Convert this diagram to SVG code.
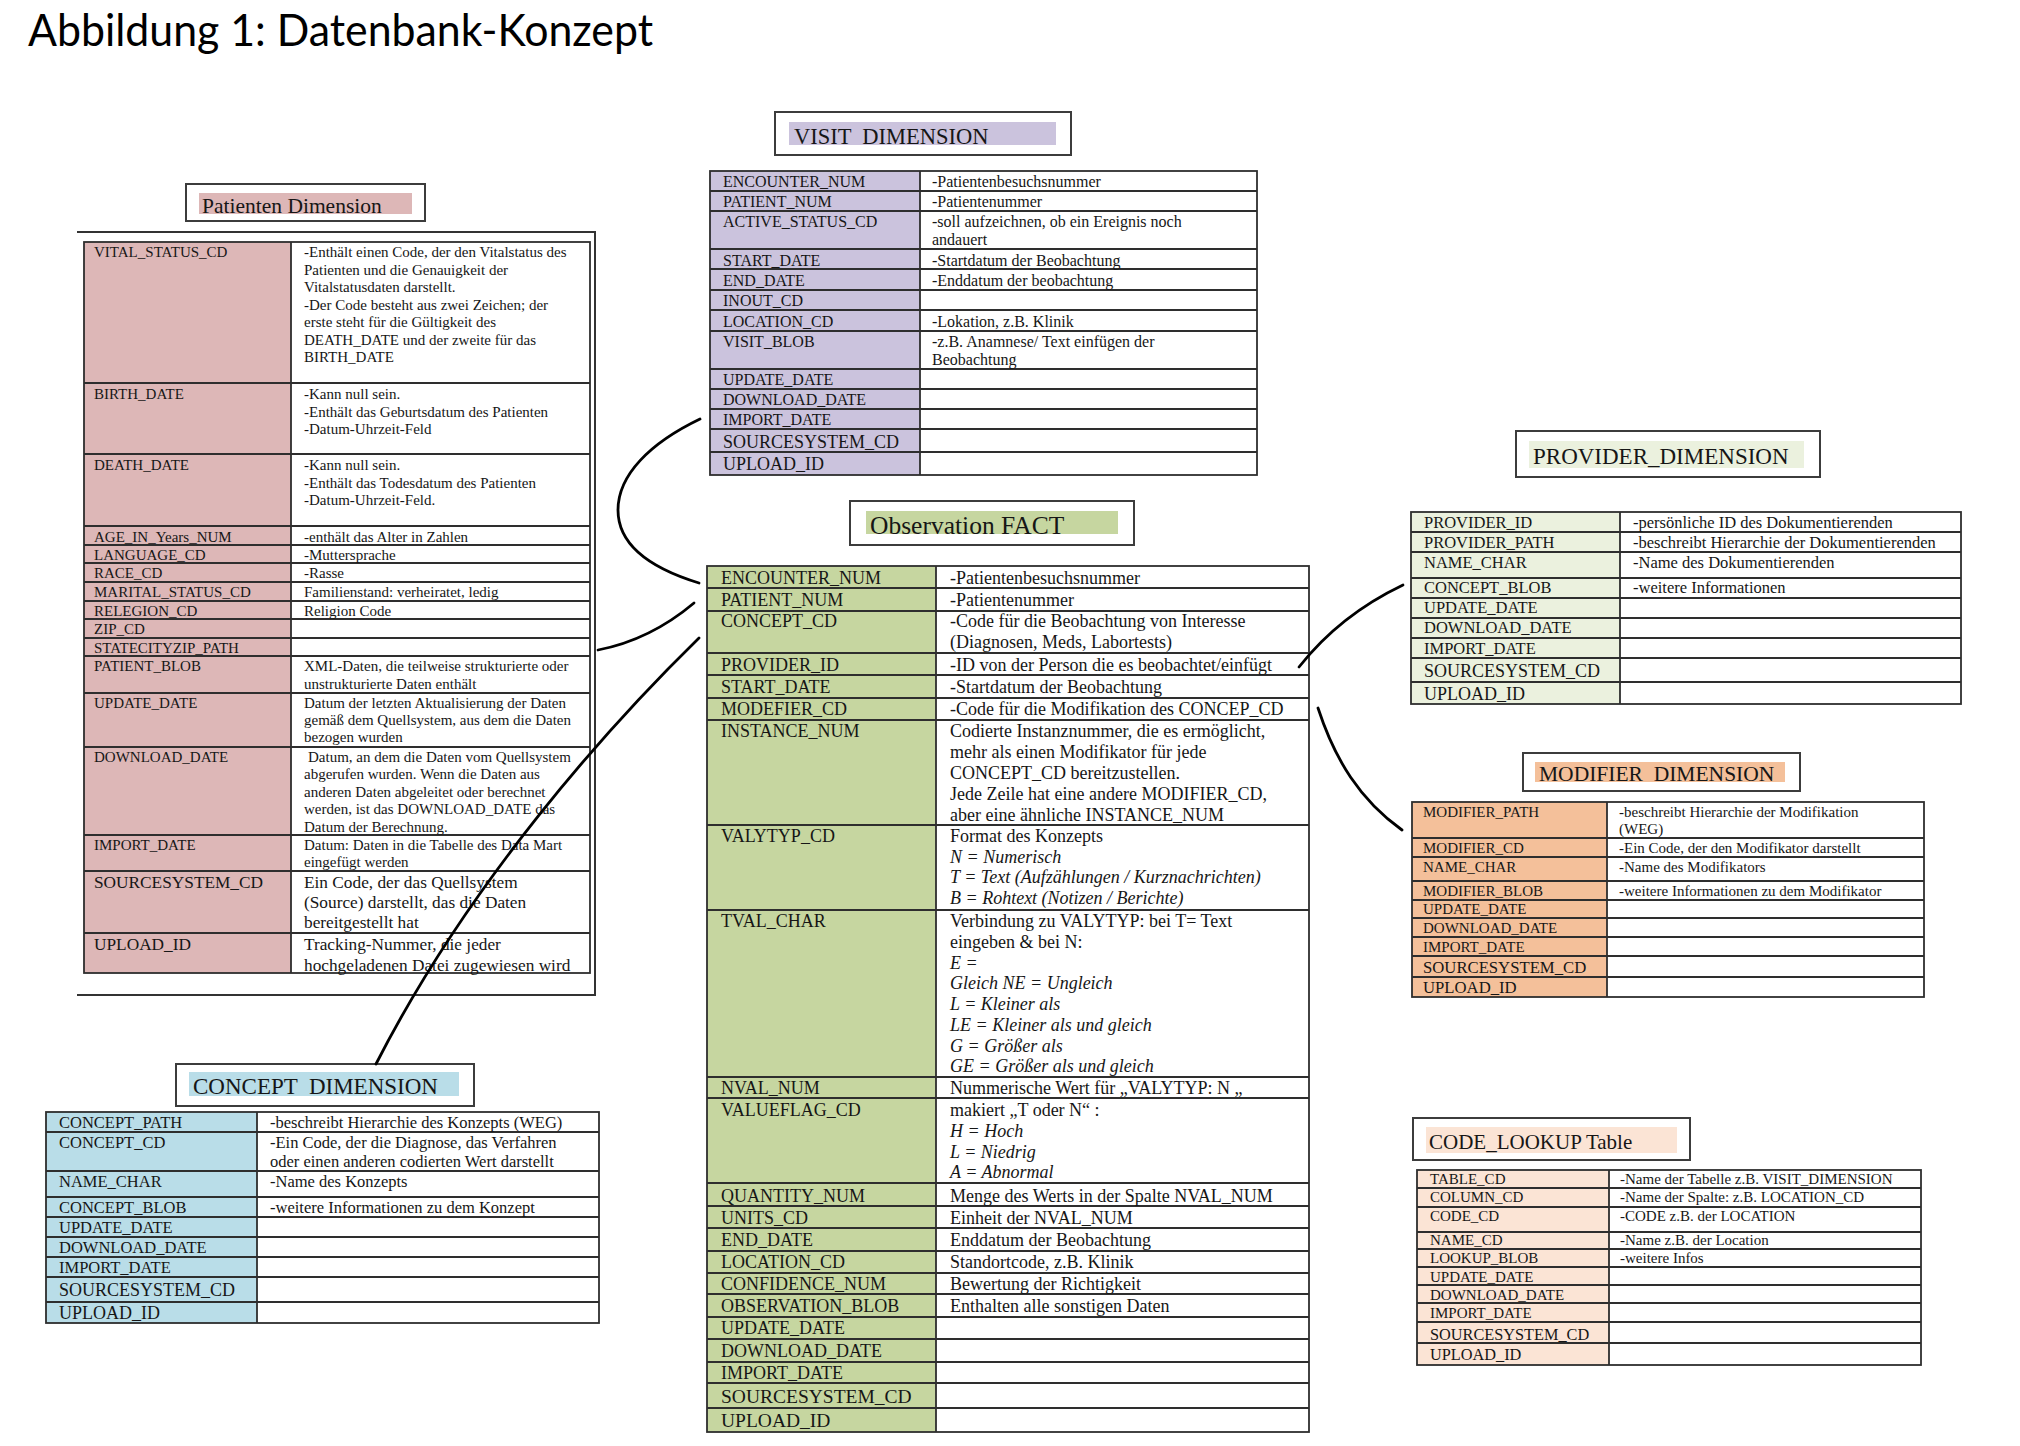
<svg xmlns="http://www.w3.org/2000/svg" width="2020" height="1446" viewBox="0 0 2020 1446">
<style>
text { font-family: "Liberation Serif", "Times New Roman", serif; fill: #161616; }
.title { font-family: Lato, "Open Sans", "Liberation Sans", sans-serif; font-size: 44px; fill: #000; }
.hb { fill: #fff; stroke: #3c3c3c; stroke-width: 2; }
.grid { fill: none; stroke: #2e2e2e; stroke-width: 1.8; }
.frame { fill: none; stroke: #333; stroke-width: 2; }
.conn { fill: none; stroke: #000; stroke-width: 2.8; stroke-linecap: round; }
.it { font-style: italic; }
.pa { fill: #ddb7b7; }
.vi { fill: #cbc3dd; }
.fa { fill: #c6d6a0; }
.pr { fill: #ebf1de; }
.mo { fill: #f4c09a; }
.co { fill: #b9dde8; }
.cl { fill: #fbe4d5; }
</style>
<rect width="2020" height="1446" fill="#fff"/>
<text class="title" x="28" y="46" textLength="625" lengthAdjust="spacingAndGlyphs">Abbildung 1: Datenbank-Konzept</text>

<!-- Patienten Dimension -->
<g id="patienten-dimension" font-size="15">
<rect class="hb" x="186" y="184" width="239" height="37"/>
<rect class="pa" x="199" y="193" width="213" height="21"/>
<text x="202" y="212.5" font-size="21.5">Patienten Dimension</text>
<path class="frame" d="M77,232 H595 V995 H77"/>
<rect class="pa" x="84" y="242" width="207" height="731"/>
<path class="grid" d="M84,383H590M84,454H590M84,526H590M84,545H590M84,563H590M84,582H590M84,601H590M84,619H590M84,638H590M84,656H590M84,693H590M84,747H590M84,835H590M84,871H590M84,933H590M291,242V973"/>
<rect class="grid" x="84" y="242" width="506" height="731"/>
<text x="94" y="257.3">VITAL_STATUS_CD</text>
<text x="304" y="257.3"><tspan x="304">-Enthält einen Code, der den Vitalstatus des</tspan><tspan x="304" dy="17.5">Patienten und die Genauigkeit der</tspan><tspan x="304" dy="17.5">Vitalstatusdaten darstellt.</tspan><tspan x="304" dy="17.5">-Der Code besteht aus zwei Zeichen; der</tspan><tspan x="304" dy="17.5">erste steht für die Gültigkeit des</tspan><tspan x="304" dy="17.5">DEATH_DATE und der zweite für das</tspan><tspan x="304" dy="17.5">BIRTH_DATE</tspan></text>
<text x="94" y="399.3">BIRTH_DATE</text>
<text x="304" y="399.3"><tspan x="304">-Kann null sein.</tspan><tspan x="304" dy="17.5">-Enthält das Geburtsdatum des Patienten</tspan><tspan x="304" dy="17.5">-Datum-Uhrzeit-Feld</tspan></text>
<text x="94" y="470">DEATH_DATE</text>
<text x="304" y="470"><tspan x="304">-Kann null sein.</tspan><tspan x="304" dy="17.5">-Enthält das Todesdatum des Patienten</tspan><tspan x="304" dy="17.5">-Datum-Uhrzeit-Feld.</tspan></text>
<text x="94" y="541.7">AGE_IN_Years_NUM</text>
<text x="304" y="541.7">-enthält das Alter in Zahlen</text>
<text x="94" y="560">LANGUAGE_CD</text>
<text x="304" y="560">-Muttersprache</text>
<text x="94" y="578.3">RACE_CD</text>
<text x="304" y="578.3">-Rasse</text>
<text x="94" y="597.3">MARITAL_STATUS_CD</text>
<text x="304" y="597.3">Familienstand: verheiratet, ledig</text>
<text x="94" y="616">RELEGION_CD</text>
<text x="304" y="616">Religion Code</text>
<text x="94" y="634.3">ZIP_CD</text>
<text x="94" y="652.7">STATECITYZIP_PATH</text>
<text x="94" y="671">PATIENT_BLOB</text>
<text x="304" y="671"><tspan x="304">XML-Daten, die teilweise strukturierte oder</tspan><tspan x="304" dy="17.5">unstrukturierte Daten enthält</tspan></text>
<text x="94" y="707.7">UPDATE_DATE</text>
<text x="304" y="707.7"><tspan x="304">Datum der letzten Aktualisierung der Daten</tspan><tspan x="304" dy="17.3">gemäß dem Quellsystem, aus dem die Daten</tspan><tspan x="304" dy="17.3">bezogen wurden</tspan></text>
<text x="94" y="761.7">DOWNLOAD_DATE</text>
<text x="308" y="761.7"><tspan x="308">Datum, an dem die Daten vom Quellsystem</tspan><tspan x="304" dy="17.5">abgerufen wurden. Wenn die Daten aus</tspan><tspan x="304" dy="17.5">anderen Daten abgeleitet oder berechnet</tspan><tspan x="304" dy="17.5">werden, ist das DOWNLOAD_DATE das</tspan><tspan x="304" dy="17.5">Datum der Berechnung.</tspan></text>
<text x="94" y="850">IMPORT_DATE</text>
<text x="304" y="850"><tspan x="304">Datum: Daten in die Tabelle des Data Mart</tspan><tspan x="304" dy="17.3">eingefügt werden</tspan></text>
<text x="94" y="888.3" font-size="17.3">SOURCESYSTEM_CD</text>
<text x="304" y="888.3" font-size="17.3"><tspan x="304">Ein Code, der das Quellsystem</tspan><tspan x="304" dy="20">(Source) darstellt, das die Daten</tspan><tspan x="304" dy="20">bereitgestellt hat</tspan></text>
<text x="94" y="950" font-size="17.3">UPLOAD_ID</text>
<text x="304" y="950" font-size="17.3"><tspan x="304">Tracking-Nummer, die jeder</tspan><tspan x="304" dy="20.7">hochgeladenen Datei zugewiesen wird</tspan></text>
</g>

<!-- VISIT DIMENSION -->
<g id="visit-dimension" font-size="16">
<rect class="hb" x="775" y="112" width="296" height="43"/>
<rect class="vi" x="789" y="122" width="267" height="23"/>
<text x="794" y="144" font-size="22.5" xml:space="preserve">VISIT  DIMENSION</text>
<rect class="vi" x="710" y="171" width="210" height="304"/>
<path class="grid" d="M710,191H1257M710,211H1257M710,249H1257M710,269H1257M710,290H1257M710,310H1257M710,331H1257M710,369H1257M710,389H1257M710,409H1257M710,429H1257M710,452H1257M920,171V475"/>
<rect class="grid" x="710" y="171" width="547" height="304"/>
<text x="723" y="186.7">ENCOUNTER_NUM</text>
<text x="932" y="186.7">-Patientenbesuchsnummer</text>
<text x="723" y="206.7">PATIENT_NUM</text>
<text x="932" y="206.7">-Patientenummer</text>
<text x="723" y="226.7">ACTIVE_STATUS_CD</text>
<text x="932" y="226.7"><tspan x="932">-soll aufzeichnen, ob ein Ereignis noch</tspan><tspan x="932" dy="18.3">andauert</tspan></text>
<text x="723" y="265.7">START_DATE</text>
<text x="932" y="265.7">-Startdatum der Beobachtung</text>
<text x="723" y="285.7">END_DATE</text>
<text x="932" y="285.7">-Enddatum der beobachtung</text>
<text x="723" y="306.3">INOUT_CD</text>
<text x="723" y="326.7">LOCATION_CD</text>
<text x="932" y="326.7">-Lokation, z.B. Klinik</text>
<text x="723" y="346.7">VISIT_BLOB</text>
<text x="932" y="346.7"><tspan x="932">-z.B. Anamnese/ Text einfügen der</tspan><tspan x="932" dy="18.3">Beobachtung</tspan></text>
<text x="723" y="385">UPDATE_DATE</text>
<text x="723" y="405">DOWNLOAD_DATE</text>
<text x="723" y="425">IMPORT_DATE</text>
<text x="723" y="447.7" font-size="18">SOURCESYSTEM_CD</text>
<text x="723" y="470" font-size="18">UPLOAD_ID</text>
</g>

<!-- Observation FACT -->
<g id="observation-fact" font-size="18">
<rect class="hb" x="850" y="501" width="284" height="44"/>
<rect class="fa" x="866" y="511" width="252" height="23"/>
<text x="870" y="534" font-size="25.5">Observation FACT</text>
<rect class="fa" x="707" y="566" width="229" height="866"/>
<path class="grid" d="M707,588H1309M707,611H1309M707,653H1309M707,675H1309M707,698H1309M707,720H1309M707,825H1309M707,910H1309M707,1077H1309M707,1098H1309M707,1183H1309M707,1206H1309M707,1228H1309M707,1251H1309M707,1273H1309M707,1294H1309M707,1317H1309M707,1339H1309M707,1362H1309M707,1383H1309M707,1408H1309M936,566V1432"/>
<rect class="grid" x="707" y="566" width="602" height="866"/>
<text x="721" y="584">ENCOUNTER_NUM</text>
<text x="950" y="584">-Patientenbesuchsnummer</text>
<text x="721" y="606">PATIENT_NUM</text>
<text x="950" y="606">-Patientenummer</text>
<text x="721" y="627.3">CONCEPT_CD</text>
<text x="950" y="627.3"><tspan x="950">-Code für die Beobachtung von Interesse</tspan><tspan x="950" dy="20.7">(Diagnosen, Meds, Labortests)</tspan></text>
<text x="721" y="670.7">PROVIDER_ID</text>
<text x="950" y="670.7">-ID von der Person die es beobachtet/einfügt</text>
<text x="721" y="692.7">START_DATE</text>
<text x="950" y="692.7">-Startdatum der Beobachtung</text>
<text x="721" y="715.3">MODEFIER_CD</text>
<text x="950" y="715.3">-Code für die Modifikation des CONCEP_CD</text>
<text x="721" y="737.3">INSTANCE_NUM</text>
<text x="950" y="737.3"><tspan x="950">Codierte Instanznummer, die es ermöglicht,</tspan><tspan x="950" dy="20.8">mehr als einen Modifikator für jede</tspan><tspan x="950" dy="20.8">CONCEPT_CD bereitzustellen.</tspan><tspan x="950" dy="20.8">Jede Zeile hat eine andere MODIFIER_CD,</tspan><tspan x="950" dy="20.8">aber eine ähnliche INSTANCE_NUM</tspan></text>
<text x="721" y="841.7">VALYTYP_CD</text>
<text x="950" y="841.7"><tspan x="950">Format des Konzepts</tspan><tspan x="950" dy="20.8" class="it">N = Numerisch</tspan><tspan x="950" dy="20.8" class="it">T = Text (Aufzählungen / Kurznachrichten)</tspan><tspan x="950" dy="20.8" class="it">B = Rohtext (Notizen / Berichte)</tspan></text>
<text x="721" y="927.3">TVAL_CHAR</text>
<text x="950" y="927.3"><tspan x="950">Verbindung zu VALYTYP: bei T= Text</tspan><tspan x="950" dy="20.7">eingeben &amp; bei N:</tspan><tspan x="950" dy="20.7" class="it">E =</tspan><tspan x="950" dy="20.7" class="it">Gleich NE = Ungleich</tspan><tspan x="950" dy="20.7" class="it">L = Kleiner als</tspan><tspan x="950" dy="20.7" class="it">LE = Kleiner als und gleich</tspan><tspan x="950" dy="20.7" class="it">G = Größer als</tspan><tspan x="950" dy="20.7" class="it">GE = Größer als und gleich</tspan></text>
<text x="721" y="1094">NVAL_NUM</text>
<text x="950" y="1094">Nummerische Wert für „VALYTYP: N „</text>
<text x="721" y="1116">VALUEFLAG_CD</text>
<text x="950" y="1116"><tspan x="950">makiert „T oder N“ :</tspan><tspan x="950" dy="20.8" class="it">H = Hoch</tspan><tspan x="950" dy="20.8" class="it">L = Niedrig</tspan><tspan x="950" dy="20.8" class="it">A = Abnormal</tspan></text>
<text x="721" y="1201.7">QUANTITY_NUM</text>
<text x="950" y="1201.7">Menge des Werts in der Spalte NVAL_NUM</text>
<text x="721" y="1224">UNITS_CD</text>
<text x="950" y="1224">Einheit der NVAL_NUM</text>
<text x="721" y="1246">END_DATE</text>
<text x="950" y="1246">Enddatum der Beobachtung</text>
<text x="721" y="1267.7">LOCATION_CD</text>
<text x="950" y="1267.7">Standortcode, z.B. Klinik</text>
<text x="721" y="1290">CONFIDENCE_NUM</text>
<text x="950" y="1290">Bewertung der Richtigkeit</text>
<text x="721" y="1311.7">OBSERVATION_BLOB</text>
<text x="950" y="1311.7">Enthalten alle sonstigen Daten</text>
<text x="721" y="1334.3">UPDATE_DATE</text>
<text x="721" y="1356.7">DOWNLOAD_DATE</text>
<text x="721" y="1379">IMPORT_DATE</text>
<text x="721" y="1403.3" font-size="19.5">SOURCESYSTEM_CD</text>
<text x="721" y="1427.3" font-size="19.5">UPLOAD_ID</text>
</g>

<!-- PROVIDER_DIMENSION -->
<g id="provider-dimension" font-size="16.5">
<rect class="hb" x="1516" y="431" width="304" height="46"/>
<rect class="pr" x="1529" y="441" width="275" height="27"/>
<text x="1533" y="463.5" font-size="23">PROVIDER_DIMENSION</text>
<rect class="pr" x="1411" y="512" width="209" height="192"/>
<path class="grid" d="M1411,532H1961M1411,552H1961M1411,578H1961M1411,598H1961M1411,618H1961M1411,638H1961M1411,658H1961M1411,682H1961M1620,512V704"/>
<rect class="grid" x="1411" y="512" width="550" height="192"/>
<text x="1424" y="527.7">PROVIDER_ID</text>
<text x="1633" y="527.7">-persönliche ID des Dokumentierenden</text>
<text x="1424" y="547.7">PROVIDER_PATH</text>
<text x="1633" y="547.7">-beschreibt Hierarchie der Dokumentierenden</text>
<text x="1424" y="567.7">NAME_CHAR</text>
<text x="1633" y="567.7">-Name des Dokumentierenden</text>
<text x="1424" y="593.3">CONCEPT_BLOB</text>
<text x="1633" y="593.3">-weitere Informationen</text>
<text x="1424" y="613.3">UPDATE_DATE</text>
<text x="1424" y="633.3">DOWNLOAD_DATE</text>
<text x="1424" y="654">IMPORT_DATE</text>
<text x="1424" y="676.7" font-size="18">SOURCESYSTEM_CD</text>
<text x="1424" y="700" font-size="18">UPLOAD_ID</text>
</g>

<!-- MODIFIER DIMENSION -->
<g id="modifier-dimension" font-size="15">
<rect class="hb" x="1523" y="753" width="277" height="38"/>
<rect class="mo" x="1535" y="762" width="250" height="20"/>
<text x="1539" y="781" font-size="21.5" xml:space="preserve">MODIFIER  DIMENSION</text>
<rect class="mo" x="1412" y="802" width="195" height="195"/>
<path class="grid" d="M1412,838H1924M1412,857H1924M1412,881H1924M1412,900H1924M1412,918H1924M1412,937H1924M1412,956H1924M1412,977H1924M1607,802V997"/>
<rect class="grid" x="1412" y="802" width="512" height="195"/>
<text x="1423" y="816.7">MODIFIER_PATH</text>
<text x="1619" y="816.7"><tspan x="1619">-beschreibt Hierarchie der Modifikation</tspan><tspan x="1619" dy="17.6">(WEG)</tspan></text>
<text x="1423" y="853.3">MODIFIER_CD</text>
<text x="1619" y="853.3">-Ein Code, der den Modifikator darstellt</text>
<text x="1423" y="871.7">NAME_CHAR</text>
<text x="1619" y="871.7">-Name des Modifikators</text>
<text x="1423" y="895.7">MODIFIER_BLOB</text>
<text x="1619" y="895.7">-weitere Informationen zu dem Modifikator</text>
<text x="1423" y="914">UPDATE_DATE</text>
<text x="1423" y="932.7">DOWNLOAD_DATE</text>
<text x="1423" y="951.7">IMPORT_DATE</text>
<text x="1423" y="972.7" font-size="16.7">SOURCESYSTEM_CD</text>
<text x="1423" y="993.3" font-size="16.7">UPLOAD_ID</text>
</g>

<!-- CONCEPT DIMENSION -->
<g id="concept-dimension" font-size="16.5">
<rect class="hb" x="176" y="1064" width="298" height="42"/>
<rect class="co" x="189" y="1072" width="270" height="24"/>
<text x="193" y="1094" font-size="23" xml:space="preserve">CONCEPT  DIMENSION</text>
<rect class="co" x="46" y="1112" width="211" height="211"/>
<path class="grid" d="M46,1132H599M46,1171H599M46,1197H599M46,1217H599M46,1237H599M46,1257H599M46,1277H599M46,1302H599M257,1112V1323"/>
<rect class="grid" x="46" y="1112" width="553" height="211"/>
<text x="59" y="1127.7">CONCEPT_PATH</text>
<text x="270" y="1127.7">-beschreibt Hierarchie des Konzepts (WEG)</text>
<text x="59" y="1147.7">CONCEPT_CD</text>
<text x="270" y="1147.7"><tspan x="270">-Ein Code, der die Diagnose, das Verfahren</tspan><tspan x="270" dy="19">oder einen anderen codierten Wert darstellt</tspan></text>
<text x="59" y="1186.7">NAME_CHAR</text>
<text x="270" y="1186.7">-Name des Konzepts</text>
<text x="59" y="1212.7">CONCEPT_BLOB</text>
<text x="270" y="1212.7">-weitere Informationen zu dem Konzept</text>
<text x="59" y="1232.7">UPDATE_DATE</text>
<text x="59" y="1253.3">DOWNLOAD_DATE</text>
<text x="59" y="1273.3">IMPORT_DATE</text>
<text x="59" y="1295.7" font-size="18">SOURCESYSTEM_CD</text>
<text x="59" y="1319" font-size="18">UPLOAD_ID</text>
</g>

<!-- CODE_LOOKUP Table -->
<g id="code-lookup-table" font-size="15">
<rect class="hb" x="1413" y="1118" width="277" height="42"/>
<rect class="cl" x="1426" y="1127" width="251" height="26"/>
<text x="1429" y="1149" font-size="21">CODE_LOOKUP Table</text>
<rect class="cl" x="1417" y="1170" width="192" height="195"/>
<path class="grid" d="M1417,1188H1921M1417,1207H1921M1417,1232H1921M1417,1249H1921M1417,1267H1921M1417,1285H1921M1417,1303H1921M1417,1322H1921M1417,1343H1921M1609,1170V1365"/>
<rect class="grid" x="1417" y="1170" width="504" height="195"/>
<text x="1430" y="1184">TABLE_CD</text>
<text x="1620" y="1184">-Name der Tabelle z.B. VISIT_DIMENSION</text>
<text x="1430" y="1202.3">COLUMN_CD</text>
<text x="1620" y="1202.3">-Name der Spalte: z.B. LOCATION_CD</text>
<text x="1430" y="1221">CODE_CD</text>
<text x="1620" y="1221">-CODE z.B. der LOCATION</text>
<text x="1430" y="1245">NAME_CD</text>
<text x="1620" y="1245">-Name z.B. der Location</text>
<text x="1430" y="1263.3">LOOKUP_BLOB</text>
<text x="1620" y="1263.3">-weitere Infos</text>
<text x="1430" y="1281.7">UPDATE_DATE</text>
<text x="1430" y="1300">DOWNLOAD_DATE</text>
<text x="1430" y="1318.3">IMPORT_DATE</text>
<text x="1430" y="1340" font-size="16.3">SOURCESYSTEM_CD</text>
<text x="1430" y="1360" font-size="16.3">UPLOAD_ID</text>
</g>

<!-- Connectors -->
<g id="connectors">
<path class="conn" d="M700,419 C650,443 618,475 618,510 C618,545 650,568 699,583"/>
<path class="conn" d="M598,650 Q650,640 694,603"/>
<path class="conn" d="M699,638 C610,725 470,880 376,1064"/>
<path class="conn" d="M1403,585 Q1340,615 1299,667"/>
<path class="conn" d="M1318,708 C1335,760 1360,800 1402,830"/>
</g>
</svg>
